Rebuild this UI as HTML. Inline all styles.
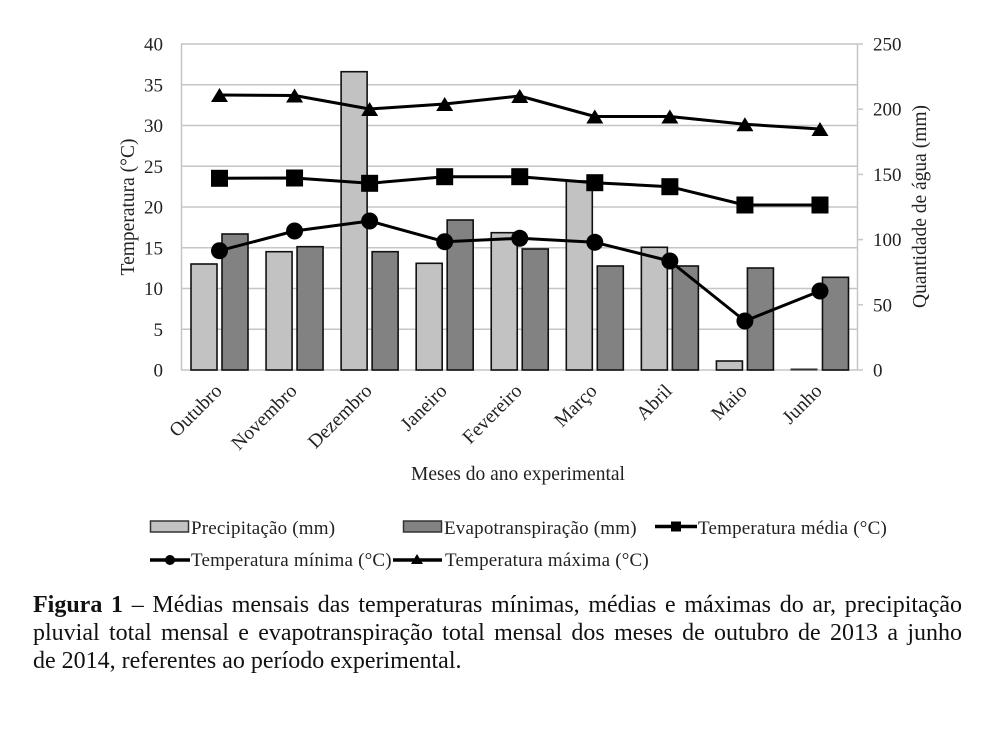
<!DOCTYPE html>
<html>
<head>
<meta charset="utf-8">
<style>
  html, body { margin:0; padding:0; background:#fff; }
  body { width:1004px; height:740px; position:relative; overflow:hidden; }
  svg { position:absolute; left:0; top:0; }
  .cap { position:absolute; left:33px; width:929px; font-family:"Liberation Serif", serif; font-size:24px; line-height:28px; color:#111; text-align:justify; text-align-last:justify; white-space:nowrap; }
  .cap.last { text-align:left; text-align-last:left; }
</style>
</head>
<body>
<svg width="1004" height="740" viewBox="0 0 1004 740" xmlns="http://www.w3.org/2000/svg" font-family="Liberation Serif, serif">
  <!-- gridlines -->
  <g stroke="#c6c6c6" stroke-width="1.5">
    <line x1="181" y1="44" x2="857" y2="44"/>
    <line x1="181" y1="84.75" x2="857" y2="84.75"/>
    <line x1="181" y1="125.5" x2="857" y2="125.5"/>
    <line x1="181" y1="166.25" x2="857" y2="166.25"/>
    <line x1="181" y1="207" x2="857" y2="207"/>
    <line x1="181" y1="247.75" x2="857" y2="247.75"/>
    <line x1="181" y1="288.5" x2="857" y2="288.5"/>
    <line x1="181" y1="329.25" x2="857" y2="329.25"/>
    <line x1="181" y1="370" x2="857" y2="370"/>
    <!-- axes -->
    <line x1="181.5" y1="44" x2="181.5" y2="370"/>
    <line x1="857.5" y1="44" x2="857.5" y2="370"/>
    <!-- right ticks -->
    <line x1="857" y1="44" x2="863" y2="44"/>
    <line x1="857" y1="109.2" x2="863" y2="109.2"/>
    <line x1="857" y1="174.4" x2="863" y2="174.4"/>
    <line x1="857" y1="239.6" x2="863" y2="239.6"/>
    <line x1="857" y1="304.8" x2="863" y2="304.8"/>
    <line x1="857" y1="370" x2="863" y2="370"/>
  </g>

  <!-- bars: precipitation (light) -->
  <g fill="#c2c2c2" stroke="#111" stroke-width="1.6">
    <rect x="191" y="264" width="26" height="106"/>
    <rect x="266.06" y="251.7" width="26" height="118.3"/>
    <rect x="341.12" y="71.7" width="26" height="298.3"/>
    <rect x="416.18" y="263.3" width="26" height="106.7"/>
    <rect x="491.24" y="232.7" width="26" height="137.3"/>
    <rect x="566.3" y="181" width="26" height="189"/>
    <rect x="641.36" y="247.3" width="26" height="122.7"/>
    <rect x="716.42" y="361" width="26" height="9"/>
  </g>
  <line x1="790.5" y1="369.5" x2="817.5" y2="369.5" stroke="#333" stroke-width="2"/>

  <!-- bars: evapotranspiration (dark) -->
  <g fill="#828282" stroke="#111" stroke-width="1.6">
    <rect x="222" y="234" width="26" height="136"/>
    <rect x="297.06" y="246.7" width="26" height="123.3"/>
    <rect x="372.12" y="251.7" width="26" height="118.3"/>
    <rect x="447.18" y="220" width="26" height="150"/>
    <rect x="522.24" y="249" width="26" height="121"/>
    <rect x="597.3" y="266" width="26" height="104"/>
    <rect x="672.36" y="266" width="26" height="104"/>
    <rect x="747.42" y="268" width="26" height="102"/>
    <rect x="822.48" y="277.3" width="26" height="92.7"/>
  </g>

  <!-- lines -->
  <g fill="none" stroke="#000" stroke-width="3" stroke-linejoin="round">
    <polyline points="219.5,95 294.56,95.5 369.62,109 444.68,104 519.74,96 594.8,116.5 669.86,116.5 744.92,124.3 819.98,129"/>
    <polyline points="219.5,178.3 294.56,178 369.62,183.3 444.68,176.7 519.74,176.7 594.8,182.7 669.86,186.7 744.92,205 819.98,205"/>
    <polyline points="219.5,250.7 294.56,231 369.62,221 444.68,241.7 519.74,238.3 594.8,242.3 669.86,261 744.92,321 819.98,291"/>
  </g>

  <!-- triangle markers (max) -->
  <g fill="#000">
    <polygon points="211,102 228,102 219.5,88"/>
    <polygon points="286.06,102.5 303.06,102.5 294.56,88.5"/>
    <polygon points="361.12,116 378.12,116 369.62,102"/>
    <polygon points="436.18,111 453.18,111 444.68,97"/>
    <polygon points="511.24,103 528.24,103 519.74,89"/>
    <polygon points="586.3,123.5 603.3,123.5 594.8,109.5"/>
    <polygon points="661.36,123.5 678.36,123.5 669.86,109.5"/>
    <polygon points="736.42,131.3 753.42,131.3 744.92,117.3"/>
    <polygon points="811.48,136 828.48,136 819.98,122"/>
  </g>
  <!-- square markers (mean) -->
  <g fill="#000">
    <rect x="211" y="169.8" width="17" height="17"/>
    <rect x="286.06" y="169.5" width="17" height="17"/>
    <rect x="361.12" y="174.8" width="17" height="17"/>
    <rect x="436.18" y="168.2" width="17" height="17"/>
    <rect x="511.24" y="168.2" width="17" height="17"/>
    <rect x="586.3" y="174.2" width="17" height="17"/>
    <rect x="661.36" y="178.2" width="17" height="17"/>
    <rect x="736.42" y="196.5" width="17" height="17"/>
    <rect x="811.48" y="196.5" width="17" height="17"/>
  </g>
  <!-- circle markers (min) -->
  <g fill="#000">
    <circle cx="219.5" cy="250.7" r="8.5"/>
    <circle cx="294.56" cy="231" r="8.5"/>
    <circle cx="369.62" cy="221" r="8.5"/>
    <circle cx="444.68" cy="241.7" r="8.5"/>
    <circle cx="519.74" cy="238.3" r="8.5"/>
    <circle cx="594.8" cy="242.3" r="8.5"/>
    <circle cx="669.86" cy="261" r="8.5"/>
    <circle cx="744.92" cy="321" r="8.5"/>
    <circle cx="819.98" cy="291" r="8.5"/>
  </g>

  <!-- left tick labels -->
  <g font-size="19" fill="#222" text-anchor="end">
    <text x="163" y="50.5">40</text>
    <text x="163" y="91.25">35</text>
    <text x="163" y="132">30</text>
    <text x="163" y="172.75">25</text>
    <text x="163" y="213.5">20</text>
    <text x="163" y="254.25">15</text>
    <text x="163" y="295">10</text>
    <text x="163" y="335.75">5</text>
    <text x="163" y="376.5">0</text>
  </g>
  <!-- right tick labels -->
  <g font-size="19" fill="#222" text-anchor="start">
    <text x="873" y="50.5">250</text>
    <text x="873" y="115.7">200</text>
    <text x="873" y="180.9">150</text>
    <text x="873" y="246.1">100</text>
    <text x="873" y="311.3">50</text>
    <text x="873" y="376.5">0</text>
  </g>

  <!-- axis titles -->
  <text x="0" y="0" font-size="19.5" fill="#222" text-anchor="middle" transform="translate(134,207) rotate(-90)">Temperatura (°C)</text>
  <text x="0" y="0" font-size="19.5" fill="#222" text-anchor="middle" transform="translate(926,206.5) rotate(-90)">Quantidade de água (mm)</text>
  <text x="518" y="480" font-size="19.5" fill="#222" text-anchor="middle">Meses do ano experimental</text>

  <!-- month labels -->
  <g font-size="19.5" fill="#222" text-anchor="end">
    <text transform="translate(223,392) rotate(-45)">Outubro</text>
    <text transform="translate(298,392) rotate(-45)">Novembro</text>
    <text transform="translate(373,392) rotate(-45)">Dezembro</text>
    <text transform="translate(448,392) rotate(-45)">Janeiro</text>
    <text transform="translate(523,392) rotate(-45)">Fevereiro</text>
    <text transform="translate(598,392) rotate(-45)">Março</text>
    <text transform="translate(673,392) rotate(-45)">Abril</text>
    <text transform="translate(748,392) rotate(-45)">Maio</text>
    <text transform="translate(823,392) rotate(-45)">Junho</text>
  </g>

  <!-- legend -->
  <rect x="150.5" y="521" width="38" height="11" fill="#c2c2c2" stroke="#333" stroke-width="1.5"/>
  <rect x="403.5" y="521" width="38" height="11" fill="#828282" stroke="#333" stroke-width="1.5"/>
  <line x1="655" y1="526.5" x2="697" y2="526.5" stroke="#000" stroke-width="3.5"/>
  <rect x="671" y="521.5" width="10" height="10" fill="#000"/>
  <line x1="150" y1="560" x2="190" y2="560" stroke="#000" stroke-width="3.5"/>
  <circle cx="170" cy="560" r="5" fill="#000"/>
  <line x1="393" y1="560" x2="442" y2="560" stroke="#000" stroke-width="3.5"/>
  <polygon points="411,564 423,564 417,554" fill="#000"/>
  <g font-size="19" fill="#222" letter-spacing="0.2">
    <text x="191" y="534">Precipitação (mm)</text>
    <text x="444" y="534">Evapotranspiração (mm)</text>
    <text x="698" y="534">Temperatura média (°C)</text>
    <text x="191" y="566">Temperatura mínima (°C)</text>
    <text x="445" y="566">Temperatura máxima (°C)</text>
  </g>
</svg>

<div class="cap" style="top:591px;"><b>Figura 1</b> – Médias mensais das temperaturas mínimas, médias e máximas do ar, precipitação</div>
<div class="cap" style="top:619px;">pluvial total mensal e evapotranspiração total mensal dos meses de outubro de 2013 a junho</div>
<div class="cap last" style="top:647px;">de 2014, referentes ao período experimental.</div>
</body>
</html>
